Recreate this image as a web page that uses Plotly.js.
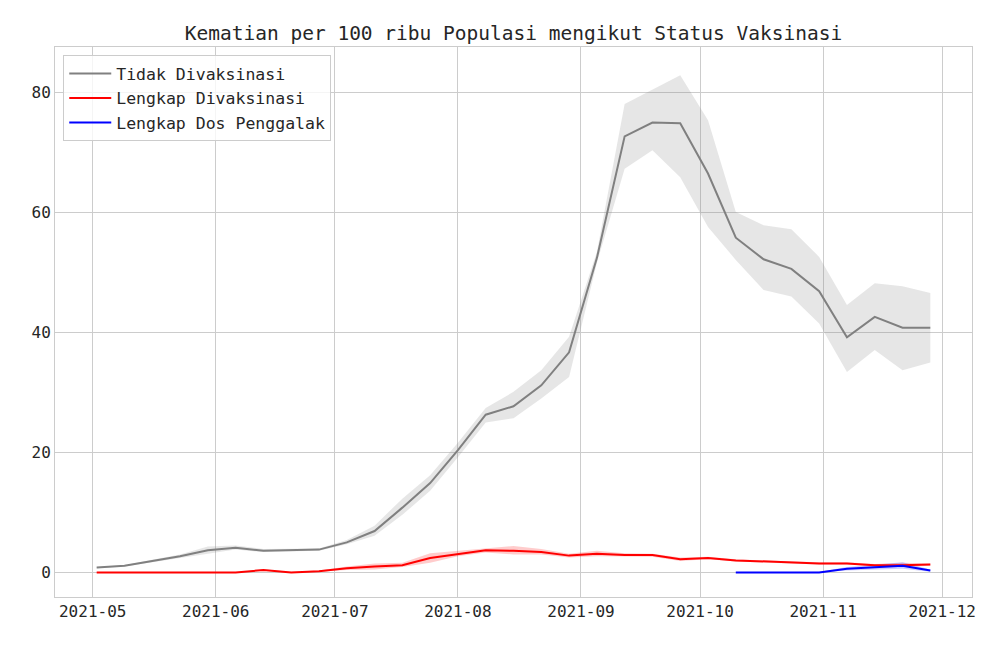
<!DOCTYPE html>
<html><head><meta charset="utf-8">
<script src="https://cdn.plot.ly/plotly-3.0.1.min.js"></script>
<style>body{margin:0;background:#fff}#chart{width:1000px;height:649px}</style>
</head><body><div id="chart"></div>
<script>
const dates = ["2021-05-02","2021-05-09","2021-05-16","2021-05-23","2021-05-30","2021-06-06","2021-06-13","2021-06-20","2021-06-27","2021-07-04","2021-07-11","2021-07-18","2021-07-25","2021-08-01","2021-08-08","2021-08-15","2021-08-22","2021-08-29","2021-09-05","2021-09-12","2021-09-19","2021-09-26","2021-10-03","2021-10-10","2021-10-17","2021-10-24","2021-10-31","2021-11-07","2021-11-14","2021-11-21","2021-11-28"];
const unvaxMean = [0.8,1.1,1.9,2.7,3.7,4.1,3.6,3.7,3.8,5.0,6.9,10.8,14.9,20.4,26.3,27.7,31.2,36.7,52.4,72.7,75.0,74.9,66.5,55.8,52.2,50.6,46.9,39.2,42.6,40.8,40.8];
const unvaxUpper = [0.9,1.2,2.1,3.0,4.3,4.5,3.9,4.0,4.0,5.4,7.8,12.3,16.2,21.6,27.4,30.1,33.7,39.3,53.4,78.1,80.5,82.9,75.4,60.1,57.9,57.2,52.6,44.6,48.2,47.7,46.6];
const unvaxLower = [0.7,1.0,1.7,2.4,3.2,3.8,3.4,3.5,3.6,4.7,6.1,9.6,13.6,19.2,25.0,25.7,29.0,32.6,51.6,67.3,70.4,65.9,57.6,52.1,47.1,46.0,41.5,33.4,37.1,33.7,35.0];
const fullMean = [0,0,0,0,0,0,0.4,0,0.2,0.7,1.0,1.2,2.4,3.1,3.7,3.6,3.4,2.8,3.1,2.9,2.9,2.2,2.4,2.0,1.8,1.6,1.5,1.5,1.2,1.2,1.3];
const fullUpper = [0,0,0,0,0,0,0.5,0.1,0.3,1.0,1.5,1.6,3.2,3.6,4.1,4.4,3.9,3.1,3.6,3.2,3.1,2.5,2.6,2.2,2.0,1.8,1.7,1.7,1.4,1.6,1.5];
const fullLower = [0,0,0,0,0,0,0.3,0,0.1,0.4,0.5,0.9,1.6,2.7,3.3,3.0,3.0,2.5,2.7,2.6,2.6,1.9,2.2,1.8,1.6,1.4,1.3,1.3,1.0,0.9,1.1];
const boostDates = ["2021-10-10","2021-10-17","2021-10-24","2021-10-31","2021-11-07","2021-11-14","2021-11-21","2021-11-28"];
const boostMean = [0,0,0,0,0.6,0.8,1.1,0.3];
const boostUpper = [0,0,0,0.1,0.9,1.3,1.7,0.5];
const boostLower = [0,0,0,0,0.3,0.4,0.6,0.1];
const names = ["Tidak Divaksinasi","Lengkap Divaksinasi","Lengkap Dos Penggalak"];
const yTicks = [0,20,40,60,80];

function band(x, up, lo, fillc){
  return [
    {x:x, y:up, type:'scatter', mode:'lines', line:{width:0}, showlegend:false, hoverinfo:'skip'},
    {x:x, y:lo, type:'scatter', mode:'lines', line:{width:0}, fill:'tonexty', fillcolor:fillc, showlegend:false, hoverinfo:'skip'}
  ];
}
const data = [
  ...band(dates, unvaxUpper, unvaxLower, 'rgba(128,128,128,0.2)'),
  ...band(dates, fullUpper, fullLower, 'rgba(255,0,0,0.2)'),
  ...band(boostDates, boostUpper, boostLower, 'rgba(0,0,255,0.2)'),
  {x:dates, y:unvaxMean, type:'scatter', mode:'lines', name:names[0], line:{color:'#808080', width:2}},
  {x:dates, y:fullMean, type:'scatter', mode:'lines', name:names[1], line:{color:'#ff0000', width:2}},
  {x:boostDates, y:boostMean, type:'scatter', mode:'lines', name:names[2], line:{color:'#0000ff', width:2}}
];
const font = "DejaVu Sans Mono";
const layout = {
  width:1000, height:649,
  margin:{l:55, r:28, t:47, b:52},
  paper_bgcolor:'#fff', plot_bgcolor:'#fff',
  font:{family:font, size:16, color:'#262626'},
  title:{text:'Kematian per 100 ribu Populasi mengikut Status Vaksinasi', font:{family:font, size:19.5, color:'#262626'}, x:0.5135, xanchor:'center', y:0.949, yanchor:'middle'},
  xaxis:{type:'date', range:['2021-04-21 12:00','2021-12-08 12:00'], tick0:'2021-05-01', dtick:'M1', tickformat:'%Y-%m',
    showgrid:true, gridcolor:'#cccccc', gridwidth:1, zeroline:false, showline:true, linecolor:'#cccccc', mirror:true, ticks:'', ticklen:0,
    tickfont:{family:font, size:16, color:'#262626'}},
  yaxis:{range:[-4.1, 87.6], tickvals:yTicks, ticktext:yTicks.map(String),
    showgrid:true, gridcolor:'#cccccc', gridwidth:1, zeroline:false, showline:true, linecolor:'#cccccc', mirror:true, ticks:'', ticklen:0,
    tickfont:{family:font, size:16, color:'#262626'}},
  showlegend:true,
  legend:{x:0.009, y:0.985, xanchor:'left', yanchor:'top', traceorder:'normal', bgcolor:'rgba(255,255,255,0.8)', bordercolor:'#cccccc', borderwidth:1,
    font:{family:font, size:16.5, color:'#262626'}, tracegroupgap:0, itemwidth:42}
};
Plotly.newPlot('chart', data, layout, {displayModeBar:false, staticPlot:true});
</script></body></html>
